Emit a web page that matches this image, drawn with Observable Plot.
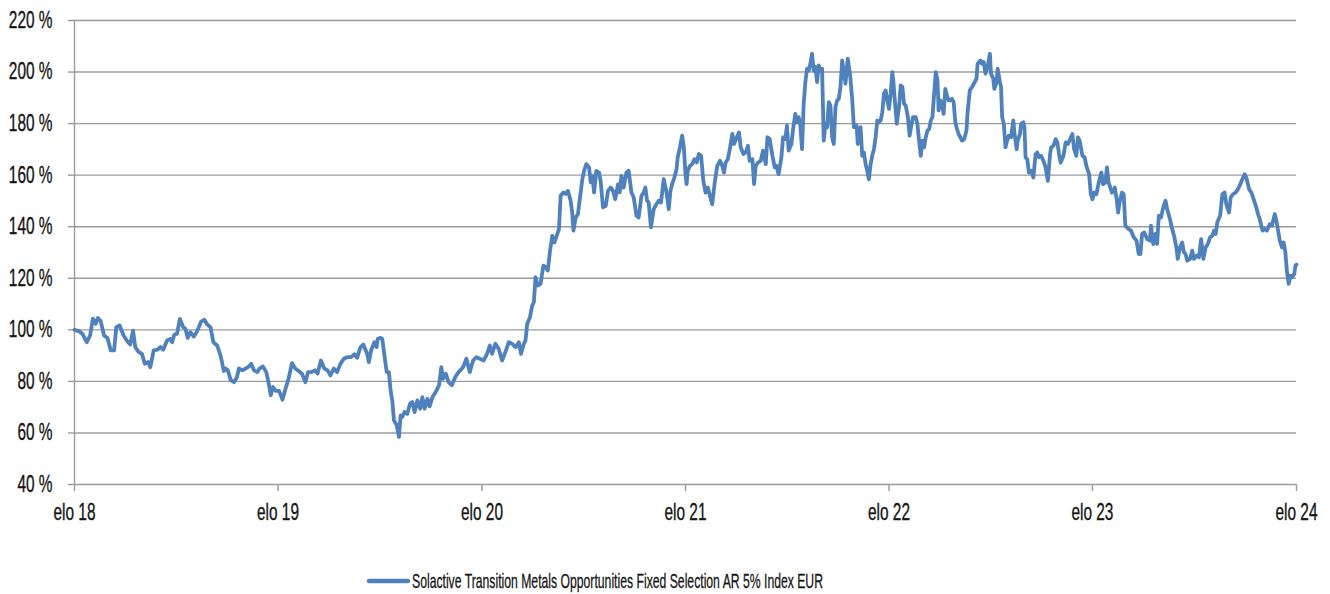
<!DOCTYPE html>
<html>
<head>
<meta charset="utf-8">
<script src="https://cdn.jsdelivr.net/npm/d3@7"></script>
<script src="https://cdn.jsdelivr.net/npm/@observablehq/plot@0.6"></script>
<style>
  html, body { margin: 0; padding: 0; background: #fff; }
  #wrap { position: relative; width: 1330px; height: 594px; overflow: hidden; }
  #legend { position: absolute; left: 0; top: 556px; }
</style>
</head>
<body>
<div id="wrap"><div id="chart"></div><div id="legend"></div></div>
<script>
// ---- Data ----
const seriesName = "Solactive Transition Metals Opportunities Fixed Selection AR 5% Index EUR";
const startDate = "2018-08-01"; // day 0 of the series
const days = [
0,8,14,22,28,33,38,42,47,53,59,65,71,75,81,88,96,100,105,109,115,121,126,132,136,142,149,154,159,166,172,175,179,184,189,195,199,203,208,214,219,223,227,233,238,244,249,256,262,268,
271,275,280,286,291,295,301,307,313,317,322,328,332,338,344,349,352,356,361,367,373,379,384,390,396,402,408,414,419,425,431,436,442,448,454,459,465,471,477,483,489,496,502,507,513,518,525,528,532,538,
542,544,549,552,556,560,564,567,570,573,578,582,585,588,592,597,602,606,610,615,620,624,628,633,637,642,648,654,658,661,666,671,677,683,689,697,703,709,715,721,727,734,740,745,749,755,761,767,773,779,785,791,797,801,806,
809,812,817,821,824,827,831,836,841,845,849,853,857,861,865,869,872,877,881,885,890,893,895,899,903,908,911,914,918,923,926,929,932,936,941,944,948,953,957,962,966,970,975,978,981,985,990,994,999,1003,1008,1012,1017,1021,1024,1027,1030,1034,1039,1044,1048,1052,1057,1062,1066,1069,
1072,1076,1080,1082,1086,1090,1093,1096,1098,1100,1104,1108,1112,1116,1120,1124,1128,1132,1136,1140,1144,1148,1153,1158,1162,1165,1168,1172,1176,1180,1183,1188,1192,1195,1200,1204,1208,1211,1216,1219,1222,1226,1231,1235,1240,1243,1247,1252,1256,1259,1263,1268,1271,1275,1278,1281,1286,1289,1293,1296,1299,1302,1305,1308,1311,1314,1317,1320,1323,1326,1329,1332,1335,1338,1341,
1344,1347,1350,1353,1356,1359,1362,1365,1368,1371,1374,1377,1380,1383,1387,1391,1395,1398,1403,1405,1410,1413,1416,1419,1422,1425,1428,1431,1434,1437,1440,1443,1446,1449,1452,1455,1458,1461,1464,1467,1469,1471,1475,1479,1482,1485,1488,1491,1495,1498,1501,1504,1509,1512,1515,1518,1521,1524,1527,1530,1533,1536,1539,1542,1545,1548,1550,1553,1556,1559,1562,1565,1568,1571,1574,1577,1580,1583,1586,1589,1592,1596,1600,1602,1606,1610,
1618,1620,1625,1628,1631,1634,1638,1642,1644,1648,1650,1654,1656,1660,1662,1664,1667,1670,1673,1676,1680,1684,1686,1690,1692,1696,1698,1702,1704,1706,1709,1712,1716,1720,1724,1727,1730,1734,1738,1742,1746,1750,1752,1756,1760,1763,1766,1769,1774,1778,1782,1786,1790,1793,1797,1800,1803,1808,1812,1815,1820,1823,1826,1829,1833,1838,1842,1845,1849,1852,1855,1858,1861,1866,1869,1872,1875,1879,1882,1885,
1891,1895,1900,1905,1909,1912,1915,1919,1924,1929,1931,1935,1939,1942,1945,1949,1953,1957,1960,1965,1969,1973,1977,1979,1983,1987,1990,1993,1996,2001,2005,2008,2013,2017,2021,2025,2029,2033,2037,2041,2044,2047,2050,2055,2059,2063,2066,2071,2074,2078,2083,2087,2090,2095,2099,2102,2107,2111,2114,2119,2123,2126,2131,2135,2139,2144,2148,2153,2156,2159,2162,2166,2169,2172,2175,2178,2181,2184,2188,2190,2192
];
const values = [
100,99.5,98.5,95.2,97.8,104.3,102.3,104.6,103.4,97.8,96.9,92,92,101,101.7,97.8,95.2,94.3,99.7,93.3,91.4,90.7,86.8,87.5,85.5,92,92.3,93.3,92.3,95.9,96.5,95.2,98.1,98.5,104.3,101,100.4,96.9,99.1,97.4,99.1,101,103.2,103.9,102.1,101,95.2,93.9,90,84,
85,84.3,80.6,79.7,81.4,85,84.3,85,85.8,86.8,84.3,83.6,85,85.8,83.6,78.5,74.6,77.8,76.3,76.3,72.9,77.5,81,87.1,85,84,83,79.7,83.6,83.6,84.3,83,88.1,85,84.3,82.3,85,83.6,86.8,88.8,89.4,89.4,90.5,89.2,93.3,94.3,90.7,87.5,92,95.2,
93.3,96.5,96.9,96.5,90,83.6,83.6,76.5,72.6,64.9,63,58.5,66.8,66.2,68.1,67.4,71.4,72,68.1,72.6,69.4,73.9,69.4,73.2,70.3,73.9,75.9,78.5,85.5,81,83,79.7,78.5,81.7,83.6,85.5,88.8,83.6,88.1,89.4,88.8,88.1,90.7,93.9,90.7,94.6,92.6,88.1,91.4,95.2,94.6,93.3,95.2,90.7,94.6,
95.9,102.3,104.9,109.4,110.7,120.4,117.2,117.8,124.9,124.3,123,130.7,136.5,133.9,136.5,139.1,152,153.3,152.7,153.9,150.1,144.9,138.5,143.6,144.9,153.3,158.5,161.7,164.3,163,157.2,159.7,153.3,161.7,161,157.2,147.5,148.1,153.9,155.2,153.9,150.7,156.5,153.3,159.7,155.2,161,161.7,153.3,151.4,144.3,143.6,152,153.3,155.2,150.1,149.4,139.8,146.8,148.8,150.1,149.4,158.5,153.3,146.8,153.9,
156.5,159.1,162.3,166.9,170.8,175.3,170.8,160.4,156.5,161.7,163.6,164.3,166.2,164.9,168.2,167.5,157.8,153.2,155.2,151.9,148.7,156.5,163.6,165.6,163.6,161,164.9,166.2,170.8,176,172.1,174.7,176.6,170.8,168.2,168.8,171.4,165.6,166.2,156.5,163.6,164.9,165.6,169.5,164.3,174.7,174,167.5,163,163.6,160.4,166.9,174.7,174,179.2,169.5,172.1,177.9,183.8,180.5,182.5,179.2,170.1,187.7,196.1,201.3,200.6,203.2,207.1,200.6,202,196.1,202.6,200.6,201.3,
173.4,179.9,178.6,188.3,187,174.7,172.1,186.4,189,189.6,194.2,204.5,200.6,195.5,205.2,199.4,189.6,178.6,179.2,172.1,178.6,167.5,168.8,164.3,161.7,158.4,164.3,167.5,170.1,174.7,181.2,180.5,181.2,184.4,191.6,192.9,189,185.7,191.6,200,196.1,190.3,179.9,186.4,194.8,194.2,187.7,187,182.5,175.3,179.2,182.5,182.5,179.9,173.4,167.5,173.4,170.8,174.7,177.3,177.9,181.2,182.5,191.6,200,196.8,185.1,189,187.7,183.8,193.5,190.9,189,189,189.6,188.3,180.5,177.9,175.9,174.7,173.4,174,177.3,184.4,192.9,194.2,
197.4,203.2,204.5,203.2,203.9,199.4,202,207.1,199.4,197.4,193.5,196.1,201.3,196.1,194.2,182.5,179.9,170.8,173.4,175.3,174.7,181.2,176.6,170.1,173.4,176,179.9,180.5,178.6,166.9,166.2,161,161.7,159.1,168.2,168.8,166.9,167.5,165.6,163,157.8,168.2,170.8,171.4,174,172.7,168.2,164.9,167.5,172.7,172.1,174,176,170.1,167.5,174.7,173.4,167.5,166.9,163.6,160.4,152.6,150.6,153.2,152.6,157.8,161,156.5,157.1,163,157.1,155.2,153.2,155.2,151.3,145.5,150,153.2,152.6,140.3,
139.1,138.5,135.9,134.6,129.4,129.4,137.2,137.8,135.2,134.6,140.4,133.3,137.2,133.3,144.3,143.6,147.5,150.1,146.8,143,139.1,135.9,131.4,127.5,132,133.9,130.1,129.4,126.8,127.5,130.7,127.5,128.8,128.1,135.2,127.5,132,133.3,135.9,136.5,138.5,137.2,141.7,144.3,152.6,153.3,148.8,145.5,151.4,152.6,153.3,154.6,155.9,158.5,160.4,159.1,154.6,153.3,151.4,148.1,144.9,143,138.5,139.1,138.5,141,140.4,144.9,142.3,138.5,134.6,132,133.9,130.1,122.3,117.8,121,120.4,121.7,124.9,125.3
];
const yTicks = [40, 60, 80, 100, 120, 140, 160, 180, 200, 220];
const xTickDates = ["2018-08-01","2019-08-01","2020-08-01","2021-08-01","2022-08-01","2023-08-01","2024-08-01"];
const xTickLabels = ["elo 18","elo 19","elo 20","elo 21","elo 22","elo 23","elo 24"];

// ---- Build ----
const t0 = new Date(startDate + "T00:00:00Z").getTime();
const data = days.map((d, i) => ({date: new Date(t0 + d * 864e5), value: values[i]}));
const xTicks = xTickDates.map(s => new Date(s + "T00:00:00Z"));
const labelByTime = new Map(xTicks.map((d, i) => [d.getTime(), xTickLabels[i]]));

const FONT = "'Liberation Sans', Arial, sans-serif";
const GRID = "#9b9b9b";
const BLUE = "#4f81bd";
const INK = "#141414";
const SQUEEZE = 0.67; // horizontal condensing of the text face

const chart = Plot.plot({
  width: 1330,
  height: 556,
  marginLeft: 74,
  marginRight: 34,
  marginTop: 20,
  marginBottom: 72,
  style: {fontFamily: FONT, fontSize: "23px", color: INK, background: "#fff", overflow: "visible"},
  x: {type: "utc", domain: [xTicks[0], xTicks[xTicks.length - 1]]},
  y: {domain: [40, 220]},
  marks: [
    Plot.gridY(yTicks, {stroke: GRID, strokeOpacity: 1, strokeWidth: 1.4}),
    Plot.axisY(yTicks, {tickSize: 6, tickPadding: 16, stroke: GRID, strokeWidth: 1.4, tickFormat: d => `${d} %`, label: null}),
    Plot.axisX(xTicks, {tickSize: 7, tickPadding: 12, stroke: GRID, strokeWidth: 1.4, tickFormat: d => labelByTime.get(d.getTime()), label: null}),
    Plot.ruleX([xTicks[0]], {stroke: GRID, strokeWidth: 1.4}),
    Plot.line(data, {x: "date", y: "value", stroke: BLUE, strokeWidth: 3.8, strokeLinejoin: "round", strokeLinecap: "round"})
  ]
});
document.getElementById("chart").appendChild(chart);

// condense axis text around its anchor point
chart.querySelectorAll("text").forEach(t => {
  const tr = t.getAttribute("transform");
  if (tr) {
    t.setAttribute("transform", `${tr} scale(${SQUEEZE},1)`);
  } else {
    const w = t.getComputedTextLength();
    if (w > 0) {
      t.setAttribute("textLength", (w * SQUEEZE).toFixed(1));
      t.setAttribute("lengthAdjust", "spacingAndGlyphs");
    }
  }
  t.setAttribute("stroke", INK);
  t.setAttribute("stroke-width", "0.35");
});

// ---- Legend ----
const lg = d3.select("#legend").append("svg").attr("width", 1330).attr("height", 38);
lg.append("line").attr("x1", 369).attr("x2", 408).attr("y1", 25).attr("y2", 25)
  .attr("stroke", BLUE).attr("stroke-width", 4.5).attr("stroke-linecap", "round");
lg.append("text").attr("x", 412).attr("y", 32)
  .attr("font-family", FONT).attr("font-size", 21).attr("fill", INK)
  .attr("stroke", INK).attr("stroke-width", 0.3)
  .attr("textLength", 411).attr("lengthAdjust", "spacingAndGlyphs")
  .text(seriesName);
</script>
</body>
</html>
